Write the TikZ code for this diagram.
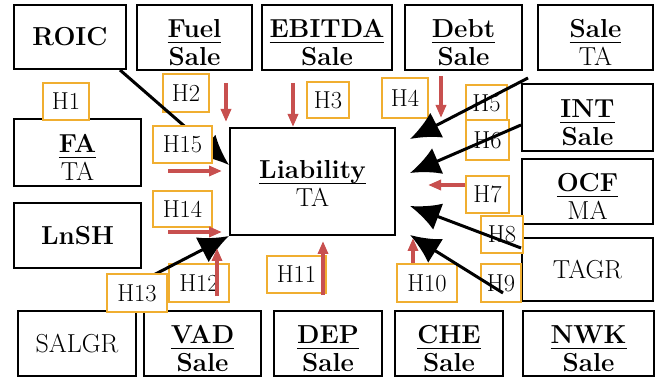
\documentclass[tikz,border=0pt]{standalone}
\usetikzlibrary{arrows.meta}
\definecolor{hred}{HTML}{C8504F}
\definecolor{horange}{HTML}{F0AE30}
\setlength{\arrayrulewidth}{1.1pt}
\newcommand\frc[3][28pt]{\raisebox{0pt}[#1][\dimexpr55.7pt-#1\relax]{\begin{tabular}[t]{@{}c@{}}#2\\[-4.5pt]\hline\rule{0pt}{22.5pt}#3\end{tabular}}}
\tikzset{
  box/.style={draw=black, line width=2.7pt, fill=white, inner sep=0pt, align=center,
    font=\fontsize{26}{28}\selectfont},
  hlab/.style={draw=horange, line width=1.2pt, fill=white, inner sep=0pt,
    font=\fontsize{24.5}{26}\selectfont, text=black},
  blk/.style={line width=3pt, -{Latex[length=30pt,width=28pt]}},
  redarr/.style={line width=4pt, hred, -{Triangle[length=13pt,width=10pt]}},
}
\begin{document}
\begin{tikzpicture}[x=1pt,y=-1pt]
\useasboundingbox (0,0) rectangle (661,379);
% main boxes
\node[box, minimum width=112, minimum height=64] (roic) at (70,37) {\textbf{ROIC}};
\node[box, minimum width=115, minimum height=65] (fuel) at (194.5,37.5) {\frc{\textbf{Fuel}}{\textbf{Sale}}};
\node[box, minimum width=130, minimum height=65] (ebitda) at (327,37.5) {\frc{\textbf{EBITDA}}{\textbf{Sale}}};
\node[box, minimum width=117, minimum height=65] (debt) at (463.5,37.5) {\frc{\textbf{Debt}}{\textbf{Sale}}};
\node[box, minimum width=115, minimum height=65] (saleta) at (595.5,37.5) {\frc{\textbf{Sale}}{TA}};
\node[box, minimum width=131, minimum height=67] (int) at (587.5,117.5) {\frc{\textbf{INT}}{\textbf{Sale}}};
\node[box, minimum width=131, minimum height=65] (ocf) at (587.5,191.5) {\frc{\textbf{OCF}}{MA}};
\node[box, minimum width=131, minimum height=63] (tagr) at (587.5,269.5) {TAGR};
\node[box, minimum width=131, minimum height=65] (nwk) at (588.5,343.5) {\frc{\textbf{NWK}}{\textbf{Sale}}};
\node[box, minimum width=108, minimum height=65] (che) at (449,343.5) {\frc{\textbf{CHE}}{\textbf{Sale}}};
\node[box, minimum width=108, minimum height=65] (dep) at (328,343.5) {\frc{\textbf{DEP}}{\textbf{Sale}}};
\node[box, minimum width=117, minimum height=65] (vad) at (202.5,343.5) {\frc{\textbf{VAD}}{\textbf{Sale}}};
\node[box, minimum width=118, minimum height=65] (salgr) at (77,343.5) {SALGR};
\node[box, minimum width=127, minimum height=67] (fa) at (77.5,152.5) {\frc{\textbf{FA}}{TA}};
\node[box, minimum width=127, minimum height=65] (lnsh) at (77.5,235.5) {\textbf{LnSH}};
\node[box, minimum width=165, minimum height=107] (liab) at (312.5,181.5) {\frc[25pt]{\textbf{Liability}}{TA}};
% labels under the black connectors
\node[hlab, minimum width=46, minimum height=37] (h1) at (66,101.5) {H1};
\node[hlab, minimum width=46, minimum height=38] (h2) at (186,93) {H2};
\node[hlab, minimum width=42, minimum height=36] (h3) at (328,100) {H3};
\node[hlab, minimum width=46, minimum height=40] (h4) at (405,98) {H4};
\node[hlab, minimum width=41, minimum height=36] (h5) at (486.5,103) {H5};
\node[hlab, minimum width=43, minimum height=40] (h6) at (487.5,140) {H6};
\node[hlab, minimum width=43, minimum height=37] (h7) at (487.5,194.5) {H7};
\node[hlab, minimum width=42, minimum height=37] (h8) at (502,234.5) {H8};
\node[hlab, minimum width=40, minimum height=38] (h9) at (501,283) {H9};
\node[hlab, minimum width=60, minimum height=38] (h10) at (427,283) {H10};
\node[hlab, minimum width=59, minimum height=37] (h11) at (296.5,274.5) {H11};
\node[hlab, minimum width=60, minimum height=38] (h12) at (199,283) {H12};
% connector end points
\coordinate (roicS) at (120,70);
\coordinate (roicT) at (229,165);
\coordinate (saleS) at (528,78);
\coordinate (saleT) at (410,139);
\coordinate (intS) at (521,125);
\coordinate (intT) at (410,173);
\coordinate (tagrA) at (521,248);
\coordinate (tagrAT) at (410,206);
\coordinate (tagrB) at (503,293);
\coordinate (tagrBT) at (410,235);
\coordinate (salgrS) at (140,282);
\coordinate (salgrT) at (229,236);
% black connectors
\draw[blk] (roicS) -- (roicT);
\draw[blk] (saleS) -- (saleT);
\draw[blk] (intS) -- (intT);
\draw[blk] (tagrA) -- (tagrAT);
\draw[blk] (tagrB) -- (tagrBT);
\draw[blk] (salgrS) -- (salgrT);
% labels over the black connectors
\node[hlab, minimum width=60, minimum height=38] (h13) at (137,293) {H13};
\node[hlab, minimum width=59, minimum height=36] (h14) at (182.5,209) {H14};
\node[hlab, minimum width=59, minimum height=37] (h15) at (182.5,144.5) {H15};
% red arrows
\coordinate (r2a) at (226,83);   \coordinate (r2b) at (226,122);
\coordinate (r3a) at (293,83);   \coordinate (r3b) at (293,127);
\coordinate (r4a) at (441,76);   \coordinate (r4b) at (441,118);
\coordinate (r15a) at (168,171); \coordinate (r15b) at (222,171);
\coordinate (r14a) at (168,232); \coordinate (r14b) at (222,232);
\coordinate (r7a) at (465,185);  \coordinate (r7b) at (428,185);
\coordinate (r10a) at (413,263); \coordinate (r10b) at (413,238);
\coordinate (r11a) at (323,295); \coordinate (r11b) at (323,241);
\coordinate (r12a) at (217,296); \coordinate (r12b) at (217,248);
\draw[redarr] (r2a) -- (r2b);
\draw[redarr] (r3a) -- (r3b);
\draw[redarr] (r4a) -- (r4b);
\draw[redarr] (r15a) -- (r15b);
\draw[redarr] (r14a) -- (r14b);
\draw[redarr] (r7a) -- (r7b);
\draw[redarr] (r10a) -- (r10b);
\draw[redarr] (r11a) -- (r11b);
\draw[redarr] (r12a) -- (r12b);
\end{tikzpicture}
\end{document}
